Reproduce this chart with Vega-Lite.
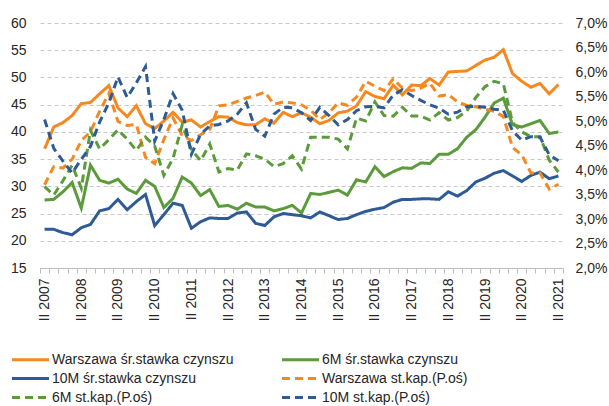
{
  "$schema": "https://vega.github.io/schema/vega-lite/v6.json",
  "width": 523,
  "height": 245,
  "autosize": {"type": "none"},
  "padding": {"left": 40, "top": 23, "right": 46, "bottom": 138},
  "config": {
    "view": {"stroke": null},
    "font": "Liberation Sans",
    "axis": {"labelFont": "Liberation Sans", "labelFontSize": 14, "labelColor": "#262626", "title": null}
  },
  "data": {"values": [
    {"i":0,"q":"II 2007","w":36.9,"m6":27.5,"m10":22.1,"wk":3.70,"m6k":3.66,"m10k":5.03},
    {"i":1,"q":"III 2007","w":40.9,"m6":27.6,"m10":22.1,"wk":4.07,"m6k":3.49,"m10k":4.44},
    {"i":2,"q":"IV 2007","w":41.7,"m6":29.0,"m10":21.5,"wk":4.04,"m6k":3.78,"m10k":4.18},
    {"i":3,"q":"I 2008","w":43.0,"m6":30.7,"m10":21.1,"wk":4.22,"m6k":4.10,"m10k":3.94},
    {"i":4,"q":"II 2008","w":45.2,"m6":26.0,"m10":22.4,"wk":4.60,"m6k":3.63,"m10k":4.22},
    {"i":5,"q":"III 2008","w":45.4,"m6":33.9,"m10":23.0,"wk":4.78,"m6k":4.81,"m10k":4.48},
    {"i":6,"q":"IV 2008","w":47.0,"m6":31.1,"m10":25.5,"wk":5.20,"m6k":4.43,"m10k":4.98},
    {"i":7,"q":"I 2009","w":48.5,"m6":30.6,"m10":25.9,"wk":5.56,"m6k":4.62,"m10k":5.37},
    {"i":8,"q":"II 2009","w":44.4,"m6":31.3,"m10":27.6,"wk":4.99,"m6k":4.82,"m10k":5.90},
    {"i":9,"q":"III 2009","w":42.8,"m6":29.5,"m10":25.7,"wk":4.91,"m6k":4.63,"m10k":5.48},
    {"i":10,"q":"IV 2009","w":44.8,"m6":28.7,"m10":27.2,"wk":4.93,"m6k":4.40,"m10k":5.78},
    {"i":11,"q":"I 2010","w":41.5,"m6":31.1,"m10":28.5,"wk":4.26,"m6k":4.67,"m10k":6.11},
    {"i":12,"q":"II 2010","w":40.6,"m6":30.0,"m10":22.8,"wk":4.13,"m6k":4.49,"m10k":4.59},
    {"i":13,"q":"III 2010","w":42.0,"m6":26.1,"m10":24.8,"wk":4.62,"m6k":3.89,"m10k":5.03},
    {"i":14,"q":"IV 2010","w":43.6,"m6":27.8,"m10":26.9,"wk":5.06,"m6k":4.24,"m10k":5.56},
    {"i":15,"q":"I 2011","w":41.8,"m6":31.7,"m10":26.5,"wk":4.70,"m6k":4.92,"m10k":5.22},
    {"i":16,"q":"II 2011","w":42.2,"m6":30.6,"m10":22.3,"wk":4.60,"m6k":4.42,"m10k":4.32},
    {"i":17,"q":"III 2011","w":40.9,"m6":28.3,"m10":23.5,"wk":4.72,"m6k":4.19,"m10k":4.73},
    {"i":18,"q":"IV 2011","w":41.9,"m6":29.4,"m10":24.2,"wk":4.83,"m6k":4.53,"m10k":4.90},
    {"i":19,"q":"I 2012","w":42.8,"m6":26.3,"m10":24.1,"wk":5.31,"m6k":3.96,"m10k":4.93},
    {"i":20,"q":"II 2012","w":42.7,"m6":26.5,"m10":24.1,"wk":5.33,"m6k":4.03,"m10k":5.00},
    {"i":21,"q":"III 2012","w":41.7,"m6":25.8,"m10":25.1,"wk":5.40,"m6k":4.00,"m10k":5.14},
    {"i":22,"q":"IV 2012","w":41.3,"m6":26.9,"m10":25.3,"wk":5.47,"m6k":4.33,"m10k":5.37},
    {"i":23,"q":"I 2013","w":41.3,"m6":26.2,"m10":23.2,"wk":5.52,"m6k":4.29,"m10k":4.83},
    {"i":24,"q":"II 2013","w":42.4,"m6":26.2,"m10":22.8,"wk":5.59,"m6k":4.22,"m10k":4.69},
    {"i":25,"q":"III 2013","w":41.6,"m6":25.5,"m10":24.4,"wk":5.34,"m6k":4.07,"m10k":5.14},
    {"i":26,"q":"IV 2013","w":43.6,"m6":25.9,"m10":25.0,"wk":5.39,"m6k":4.13,"m10k":5.28},
    {"i":27,"q":"I 2014","w":42.8,"m6":26.5,"m10":24.8,"wk":5.37,"m6k":4.29,"m10k":5.27},
    {"i":28,"q":"II 2014","w":43.5,"m6":25.1,"m10":24.6,"wk":5.33,"m6k":4.02,"m10k":5.17},
    {"i":29,"q":"III 2014","w":42.7,"m6":28.7,"m10":24.2,"wk":5.22,"m6k":4.67,"m10k":5.01},
    {"i":30,"q":"IV 2014","w":41.5,"m6":28.5,"m10":25.3,"wk":5.03,"m6k":4.67,"m10k":5.28},
    {"i":31,"q":"I 2015","w":42.1,"m6":28.9,"m10":24.6,"wk":5.17,"m6k":4.67,"m10k":5.11},
    {"i":32,"q":"II 2015","w":43.5,"m6":29.3,"m10":23.9,"wk":5.37,"m6k":4.63,"m10k":4.92},
    {"i":33,"q":"III 2015","w":43.8,"m6":28.4,"m10":24.1,"wk":5.32,"m6k":4.43,"m10k":5.03},
    {"i":34,"q":"IV 2015","w":44.8,"m6":31.2,"m10":24.8,"wk":5.49,"m6k":5.06,"m10k":5.21},
    {"i":35,"q":"I 2016","w":47.4,"m6":30.8,"m10":25.4,"wk":5.81,"m6k":5.00,"m10k":5.29},
    {"i":36,"q":"II 2016","w":46.5,"m6":33.6,"m10":25.8,"wk":5.71,"m6k":5.39,"m10k":5.30},
    {"i":37,"q":"III 2016","w":46.1,"m6":31.8,"m10":26.1,"wk":5.62,"m6k":5.11,"m10k":5.27},
    {"i":38,"q":"IV 2016","w":48.6,"m6":32.7,"m10":27.1,"wk":5.86,"m6k":5.10,"m10k":5.53},
    {"i":39,"q":"I 2017","w":46.8,"m6":33.4,"m10":27.6,"wk":5.67,"m6k":5.28,"m10k":5.64},
    {"i":40,"q":"II 2017","w":48.6,"m6":33.3,"m10":27.6,"wk":5.62,"m6k":5.10,"m10k":5.52},
    {"i":41,"q":"III 2017","w":48.5,"m6":34.3,"m10":27.7,"wk":5.67,"m6k":5.10,"m10k":5.42},
    {"i":42,"q":"IV 2017","w":49.8,"m6":34.2,"m10":27.7,"wk":5.77,"m6k":5.02,"m10k":5.33},
    {"i":43,"q":"I 2018","w":48.6,"m6":35.9,"m10":27.6,"wk":5.51,"m6k":5.17,"m10k":5.26},
    {"i":44,"q":"II 2018","w":51.0,"m6":35.9,"m10":29.0,"wk":5.54,"m6k":5.02,"m10k":5.14},
    {"i":45,"q":"III 2018","w":51.1,"m6":36.9,"m10":28.2,"wk":5.39,"m6k":5.07,"m10k":5.18},
    {"i":46,"q":"IV 2018","w":51.2,"m6":39.0,"m10":29.2,"wk":5.32,"m6k":5.20,"m10k":5.29},
    {"i":47,"q":"I 2019","w":52.2,"m6":40.4,"m10":30.8,"wk":5.29,"m6k":5.48,"m10k":5.30},
    {"i":48,"q":"II 2019","w":53.2,"m6":42.7,"m10":31.5,"wk":5.24,"m6k":5.70,"m10k":5.28},
    {"i":49,"q":"III 2019","w":53.7,"m6":45.3,"m10":32.4,"wk":5.20,"m6k":5.81,"m10k":5.24},
    {"i":50,"q":"IV 2019","w":55.1,"m6":46.2,"m10":32.9,"wk":5.09,"m6k":5.76,"m10k":5.22},
    {"i":51,"q":"I 2020","w":50.7,"m6":41.3,"m10":31.9,"wk":4.46,"m6k":4.97,"m10k":4.80},
    {"i":52,"q":"II 2020","w":49.3,"m6":40.9,"m10":30.9,"wk":4.31,"m6k":4.78,"m10k":4.61},
    {"i":53,"q":"III 2020","w":48.2,"m6":41.5,"m10":32.0,"wk":3.94,"m6k":4.68,"m10k":4.68},
    {"i":54,"q":"IV 2020","w":48.9,"m6":42.1,"m10":32.6,"wk":3.94,"m6k":4.68,"m10k":4.67},
    {"i":55,"q":"I 2021","w":47.0,"m6":39.7,"m10":31.4,"wk":3.61,"m6k":4.20,"m10k":4.31},
    {"i":56,"q":"II 2021","w":48.7,"m6":40.0,"m10":31.9,"wk":3.71,"m6k":3.96,"m10k":4.19}
  ]},
  "encoding": {
    "x": {
      "field": "q", "type": "ordinal", "sort": null,
      "scale": {"type": "band", "paddingInner": 0, "paddingOuter": 0},
      "axis": {
        "labelAngle": -90, "labelPadding": 5, "tickSize": 5, "tickBand": "extent",
        "domainColor": "#BFBFBF", "tickColor": "#BFBFBF", "grid": false, "labelOverlap": false,
        "labelExpr": "slice(datum.label, 0, 3) == 'II ' ? datum.label : ''"
      }
    },
    "order": {"field": "i", "type": "quantitative"}
  },
  "layer": [
    {
      "transform": [{"fold": ["w", "m6", "m10"], "as": ["k", "v"]}],
      "mark": {"type": "line", "strokeWidth": 3},
      "encoding": {
        "y": {
          "field": "v", "type": "quantitative",
          "scale": {"domain": [15, 60], "nice": false, "zero": false},
          "axis": {"values": [15, 20, 25, 30, 35, 40, 45, 50, 55, 60], "domain": false, "ticks": false, "labelPadding": 14,
                   "grid": true, "gridDash": [4, 3], "gridColor": "#C8C8C8", "gridWidth": 1}
        },
        "color": {
          "field": "k", "type": "nominal",
          "scale": {"domain": ["w", "m6", "m10", "wk", "m6k", "m10k"], "range": ["#F5891F", "#5B9B3B", "#2F5B94", "#F5891F", "#5B9B3B", "#2F5B94"]},
          "legend": {"orient": "none", "direction": "horizontal", "legendX": -21, "legendY": 325, "columns": 2, "title": null, "padding": 0,
                     "symbolType": "M-1.85,0H1.85", "symbolSize": 400, "symbolStrokeWidth": 3, "labelOffset": 10,
                     "columnPadding": 42, "rowPadding": 0, "labelFont": "Liberation Sans", "labelFontSize": 14, "labelColor": "#262626", "labelLimit": 300,
                     "labelExpr": "datum.label == 'w' ? 'Warszawa śr.stawka czynszu' : datum.label == 'm6' ? '6M śr.stawka czynszu' : datum.label == 'm10' ? '10M śr.stawka czynszu' : datum.label == 'wk' ? 'Warszawa st.kap.(P.oś)' : datum.label == 'm6k' ? '6M st.kap.(P.oś)' : '10M st.kap.(P.oś)'"}
        },
        "strokeDash": {
          "field": "k", "type": "nominal",
          "scale": {"domain": ["w", "m6", "m10", "wk", "m6k", "m10k"], "range": [[1, 0], [1, 0], [1, 0], [8, 5], [8, 5], [8, 5]]},
          "legend": {"orient": "none", "direction": "horizontal", "legendX": -21, "legendY": 325, "columns": 2, "title": null, "padding": 0,
                     "symbolType": "M-1.85,0H1.85", "symbolSize": 400, "symbolStrokeWidth": 3, "labelOffset": 10,
                     "columnPadding": 42, "rowPadding": 0, "labelFont": "Liberation Sans", "labelFontSize": 14, "labelColor": "#262626", "labelLimit": 300,
                     "labelExpr": "datum.label == 'w' ? 'Warszawa śr.stawka czynszu' : datum.label == 'm6' ? '6M śr.stawka czynszu' : datum.label == 'm10' ? '10M śr.stawka czynszu' : datum.label == 'wk' ? 'Warszawa st.kap.(P.oś)' : datum.label == 'm6k' ? '6M st.kap.(P.oś)' : '10M st.kap.(P.oś)'"}
        }
      }
    },
    {
      "transform": [{"fold": ["wk", "m6k", "m10k"], "as": ["k", "v"]}],
      "mark": {"type": "line", "strokeWidth": 3},
      "encoding": {
        "y": {
          "field": "v", "type": "quantitative",
          "scale": {"domain": [2, 7], "nice": false, "zero": false},
          "axis": {"orient": "right", "values": [2, 2.5, 3, 3.5, 4, 4.5, 5, 5.5, 6, 6.5, 7], "domain": false, "ticks": false,
                   "grid": false, "labelPadding": 12,
                   "labelExpr": "replace(format(datum.value, '.1f'), '.', ',') + '%'"}
        },
        "color": {"field": "k", "type": "nominal"},
        "strokeDash": {"field": "k", "type": "nominal"}
      }
    }
  ],
  "resolve": {"scale": {"y": "independent"}}
}
